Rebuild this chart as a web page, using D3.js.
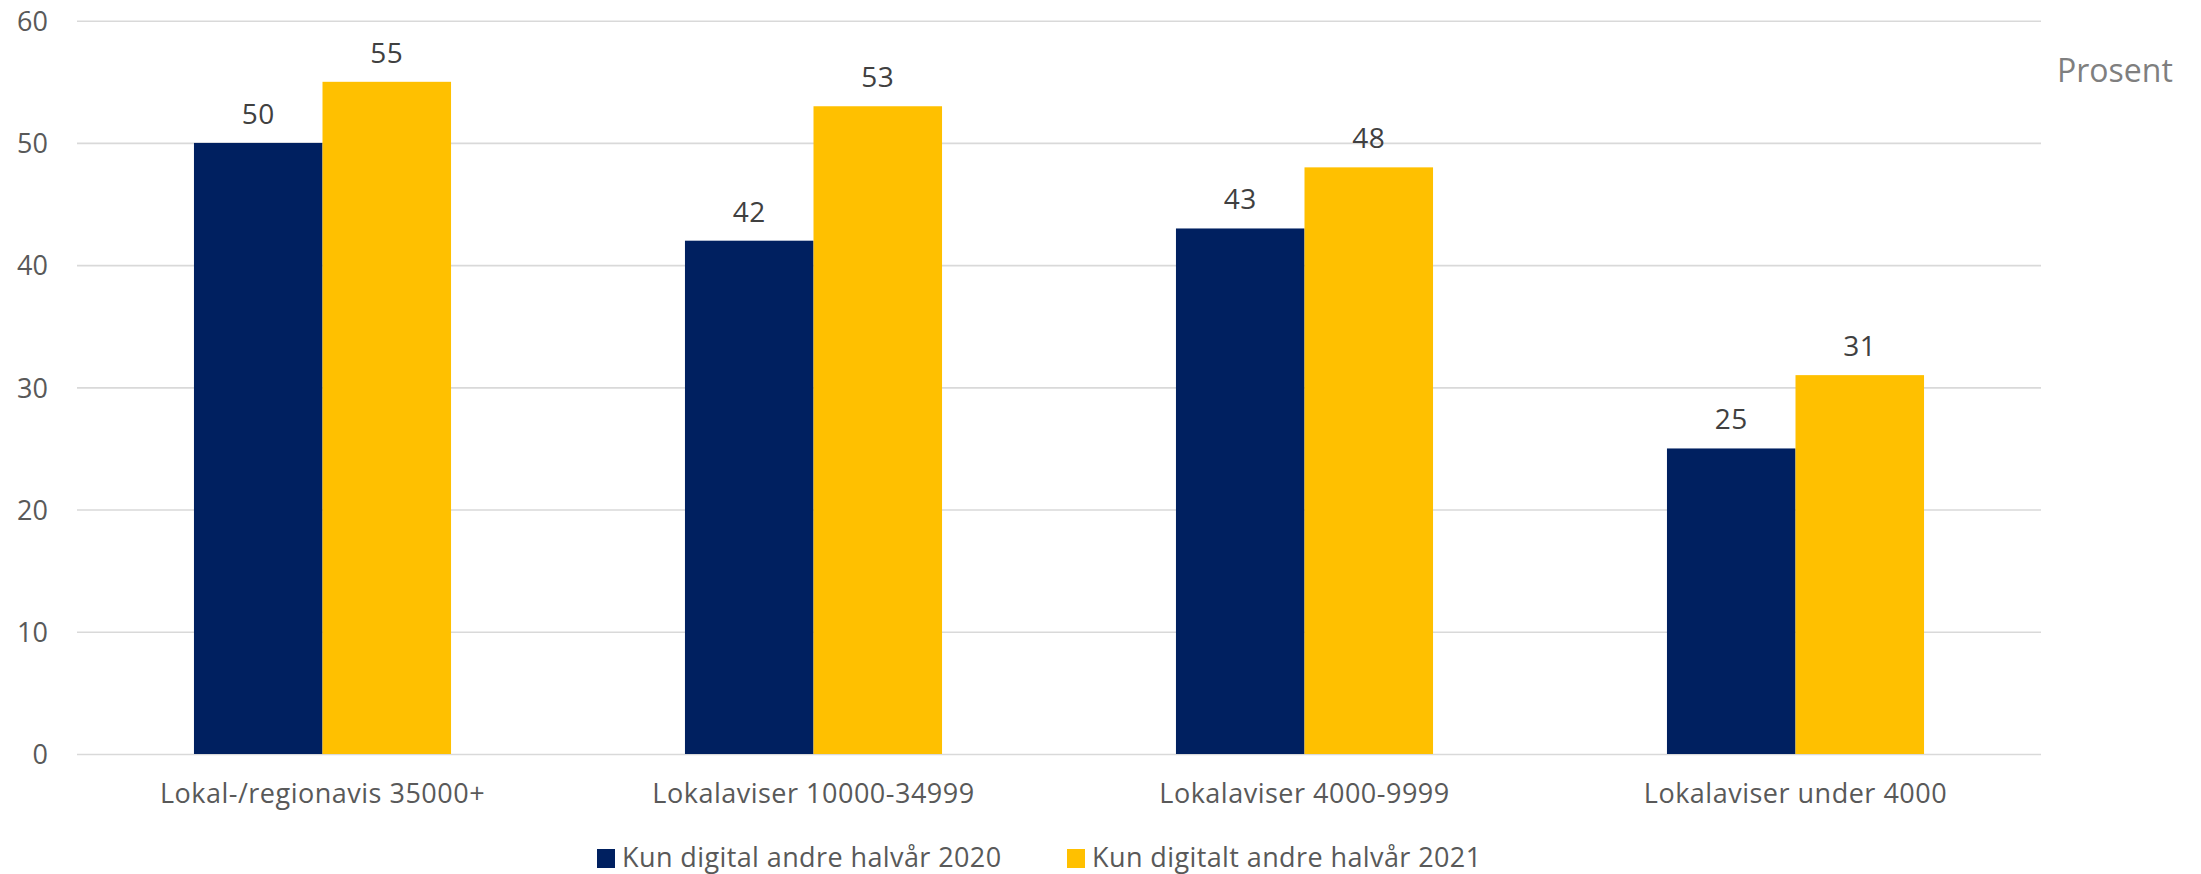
<!DOCTYPE html>
<html>
<head>
<meta charset="utf-8">
<script src="https://cdn.jsdelivr.net/npm/d3@7"></script>
<style>
  html, body { margin: 0; padding: 0; background: #fff; }
  svg { display: block; }
  text { font-family: "Open Sans", "Noto Sans", sans-serif; }
</style>
</head>
<body>
<svg id="chart" width="2201" height="874"></svg>
<script>
const categories = ["Lokal-/regionavis 35000+", "Lokalaviser 10000-34999", "Lokalaviser 4000-9999", "Lokalaviser under 4000"];
const seriesNames = ["Kun digital andre halvår 2020", "Kun digitalt andre halvår 2021"];
const values2020 = [50, 42, 43, 25];
const values2021 = [55, 53, 48, 31];
const yTicks = [0, 10, 20, 30, 40, 50, 60];
const unitLabel = "Prosent";
const colors = ["#002060", "#FFC000"];

const seriesValues = [values2020, values2021];
const svg = d3.select("#chart");

const plot = { left: 77, right: 2041, top: 20.7, bottom: 754 };

const x0 = d3.scaleBand().domain(categories).range([plot.left, plot.right]).padding(0);
const x1 = d3.scaleBand().domain(seriesNames).range([0, x0.bandwidth()]).paddingInner(0).paddingOuter(0.91);
const y = d3.scaleLinear().domain([0, 60]).range([plot.bottom, plot.top]);

// gridlines
const yAxis = d3.axisLeft(y).tickValues(yTicks).tickSize(-(plot.right - plot.left)).tickFormat(d3.format("d")).tickPadding(29);
const gy = svg.append("g").attr("transform", `translate(${plot.left},0)`).call(yAxis);
gy.select(".domain").remove();
gy.selectAll(".tick line").attr("stroke", "#d9d9d9").attr("stroke-width", 1.6);
gy.selectAll(".tick text")
  .attr("fill", "#595959")
  .style("font-size", "27px")
  .style("font-family", "'Open Sans', sans-serif")
  .attr("dy", "0.36em");

// bars
const groups = svg.append("g").selectAll("g")
  .data(categories)
  .join("g")
  .attr("transform", d => `translate(${x0(d)},0)`);

groups.selectAll("rect")
  .data((c, i) => seriesNames.map((s, j) => ({ s, j, v: seriesValues[j][i] })))
  .join("rect")
  .attr("x", d => x1(d.s))
  .attr("width", x1.bandwidth())
  .attr("y", d => y(d.v))
  .attr("height", d => y(0) - y(d.v))
  .attr("fill", d => colors[d.j]);

groups.selectAll("text.val")
  .data((c, i) => seriesNames.map((s, j) => ({ s, j, v: seriesValues[j][i] })))
  .join("text")
  .attr("class", "val")
  .attr("x", d => x1(d.s) + x1.bandwidth() / 2)
  .attr("y", d => y(d.v) - 19)
  .attr("text-anchor", "middle")
  .attr("fill", "#404040")
  .style("font-size", "28px")
  .style("letter-spacing", "0.5px")
  .text(d => d.v);

// category labels
const xAxis = d3.axisBottom(x0).tickSize(0).tickPadding(0);
const gx = svg.append("g").attr("transform", `translate(0,${plot.bottom})`).call(xAxis);
gx.select(".domain").remove();
gx.selectAll(".tick text")
  .attr("fill", "#595959")
  .attr("y", 49)
  .attr("dy", 0)
  .style("font-size", "27px")
  .style("font-family", "'Open Sans', sans-serif")
  .style("letter-spacing", "0.5px");

// unit label
svg.append("text")
  .attr("x", 2057)
  .attr("y", 81.5)
  .attr("fill", "#7f7f7f")
  .style("font-size", "32px")
  .text(unitLabel);

// legend
const legendX = [597, 1067];
const leg = svg.append("g").selectAll("g")
  .data(seriesNames)
  .join("g")
  .attr("transform", (d, i) => `translate(${legendX[i]},849)`);
leg.append("rect").attr("width", 18).attr("height", 19).attr("fill", (d, i) => colors[i]);
leg.append("text")
  .attr("x", 25)
  .attr("y", 18)
  .attr("fill", "#595959")
  .style("font-size", "27px")
  .style("letter-spacing", "0.4px")
  .text(d => d);
</script>
</body>
</html>
